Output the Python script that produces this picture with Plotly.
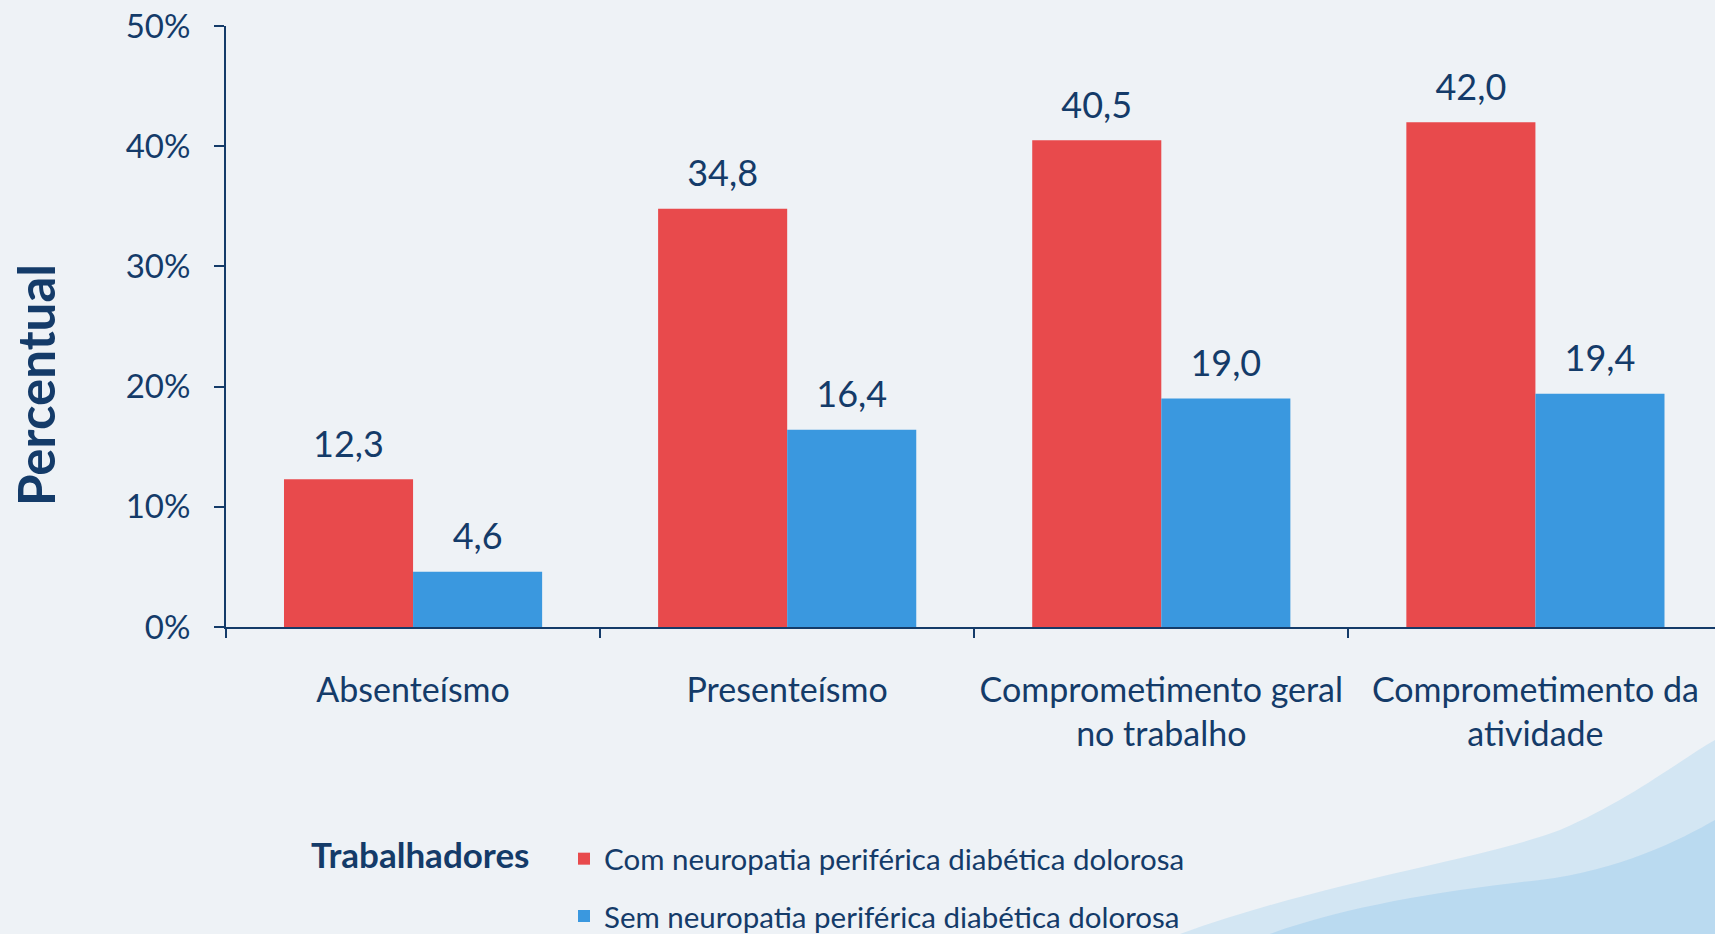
import plotly.graph_objects as go

# Dados (percentual de trabalhadores)
categorias = [
    "Absenteísmo",
    "Presenteísmo",
    "Comprometimento geral<br>no trabalho",
    "Comprometimento da<br>atividade",
]
com_npd = [12.3, 34.8, 40.5, 42.0]
sem_npd = [4.6, 16.4, 19.0, 19.4]
nome_com = "Com neuropatia periférica diabética dolorosa"
nome_sem = "Sem neuropatia periférica diabética dolorosa"
y_ticks = [0, 10, 20, 30, 40, 50]
y_ticktext = [f"{v}%" for v in y_ticks]

NAVY = "#143b69"
RED = "#e84a4c"
BLUE = "#3a98df"
BG = "#eef2f6"
FONT = "Lato"

# área do gráfico em pixels (janela 1715x934)
L, R, T, B = 226, 1715, 26, 627


def px(x, y):
    # pixel -> coordenadas "paper"
    return (x - L) / (R - L), (B - y) / (B - T)


def fmt(v):
    return f"{v:.1f}".replace(".", ",")


fig = go.Figure()

fig.add_trace(go.Bar(
    x=categorias, y=com_npd, name=nome_com,
    marker=dict(color=RED, line_width=0),
    offsetgroup="com", legendgroup="com",
    hoverinfo="skip",
))
fig.add_trace(go.Bar(
    x=categorias, y=sem_npd, name=nome_sem,
    marker=dict(color=BLUE, line_width=0),
    offsetgroup="sem", legendgroup="sem",
    hoverinfo="skip",
))

# rótulos de valor acima das barras
for vals, grp in [(com_npd, "com"), (sem_npd, "sem")]:
    fig.add_trace(go.Scatter(
        x=categorias, y=vals,
        mode="markers+text",
        text=[fmt(v) for v in vals],
        textposition="top center",
        textfont=dict(family=FONT, size=36, color=NAVY),
        marker=dict(size=20, opacity=0),
        offsetgroup=grp, showlegend=False, hoverinfo="skip",
        cliponaxis=False,
    ))


# mancha aquarela no canto inferior direito (decoração)
def curve(start, segs):
    x0, y0 = px(*start)
    d = f"M {x0:.4f},{y0:.4f}"
    for seg in segs:
        if len(seg) == 3:
            p = [px(*q) for q in seg]
            d += " C " + " ".join(f"{a:.4f},{b:.4f}" for a, b in p)
        else:
            a, b = px(*seg[0])
            d += f" L {a:.4f},{b:.4f}"
    return d + " Z"


fig.add_shape(type="path", xref="paper", yref="paper", layer="below",
              path=curve((1180, 934), [((1330, 880), (1480, 860), (1560, 830)),
                                       ((1630, 800), (1680, 760), (1715, 740)),
                                       ((1715, 934),)]),
              fillcolor="rgba(178,214,240,0.45)", line_width=0)
fig.add_shape(type="path", xref="paper", yref="paper", layer="below",
              path=curve((1270, 934), [((1350, 905), (1450, 890), (1540, 880)),
                                       ((1620, 870), (1680, 840), (1715, 820)),
                                       ((1715, 934),)]),
              fillcolor="rgba(140,196,234,0.35)", line_width=0)

fig.add_annotation(
    text="<b>Trabalhadores</b>", xref="paper", yref="paper",
    x=px(309, 0)[0], y=px(0, 854)[1], xanchor="left", yanchor="middle",
    showarrow=False, font=dict(family=FONT, size=35, color=NAVY),
)

# título do eixo y (deslocado para baixo como no original)
fig.add_annotation(
    text="<b>Percentual</b>", xref="paper", yref="paper",
    x=px(35, 0)[0], y=px(0, 385)[1], xanchor="center", yanchor="middle",
    textangle=-90, showarrow=False,
    font=dict(family=FONT, size=51, color=NAVY),
)

fig.update_layout(
    width=1715, height=934,
    barmode="group", bargap=0.31, bargroupgap=0,
    scattermode="group", scattergap=0.31,
    plot_bgcolor=BG, paper_bgcolor=BG,
    margin=dict(l=L, r=1715 - R, t=T, b=934 - B, autoexpand=False),
    font=dict(family=FONT, color=NAVY),
    showlegend=True,
    legend=dict(
        x=px(564, 0)[0], y=px(0, 833)[1], xanchor="left", yanchor="top",
        font=dict(family=FONT, size=29.5, color=NAVY),
        bgcolor="rgba(0,0,0,0)", tracegroupgap=16,
        itemwidth=30,
    ),
    xaxis=dict(
        range=[-0.5, 3.48],
        showline=True, linecolor=NAVY, linewidth=2,
        ticks="outside", tickson="boundaries", ticklen=9, tickcolor=NAVY, tickwidth=2,
        tickfont=dict(family=FONT, size=34, color=NAVY),
        ticklabelstandoff=32,
        showgrid=False, zeroline=False,
    ),
    yaxis=dict(
        range=[0, 50],
        tickmode="array", tickvals=y_ticks, ticktext=y_ticktext,
        showline=True, linecolor=NAVY, linewidth=2,
        ticks="outside", ticklen=10, tickcolor=NAVY, tickwidth=2,
        tickfont=dict(family=FONT, size=33, color=NAVY),
        ticklabelstandoff=17,
        showgrid=False, zeroline=False,
    ),
)

fig.write_html(
    "out.html",
    config={"displayModeBar": False},
    post_script="document.body.style.margin='0';document.body.style.background='#eef2f6';",
)
